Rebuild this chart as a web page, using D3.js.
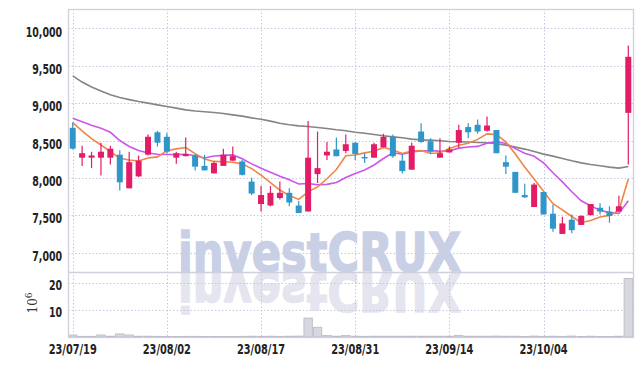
<!DOCTYPE html>
<html>
<head>
<meta charset="utf-8">
<script src="https://cdn.jsdelivr.net/npm/d3@7"></script>
<style>
  body { margin: 0; background: #fff; }
  svg { display: block; }
</style>
</head>
<body>
<div id="chart"></div>
<script>
// Trading days shown on the chart
const dates = [
  '23/07/19', '23/07/20', '23/07/21', '23/07/24', '23/07/25', '23/07/26', '23/07/27', '23/07/28', '23/07/31', '23/08/01',
  '23/08/02', '23/08/03', '23/08/04', '23/08/07', '23/08/08', '23/08/09', '23/08/10', '23/08/11', '23/08/14', '23/08/16',
  '23/08/17', '23/08/18', '23/08/21', '23/08/22', '23/08/23', '23/08/24', '23/08/25', '23/08/28', '23/08/29', '23/08/30',
  '23/08/31', '23/09/01', '23/09/04', '23/09/05', '23/09/06', '23/09/07', '23/09/08', '23/09/11', '23/09/12', '23/09/13',
  '23/09/14', '23/09/15', '23/09/18', '23/09/19', '23/09/20', '23/09/21', '23/09/22', '23/09/25', '23/09/26', '23/09/27',
  '23/10/04', '23/10/05', '23/10/06', '23/10/10', '23/10/11', '23/10/12', '23/10/13', '23/10/16', '23/10/17', '23/10/18'
];
const tickDates = ['23/07/19', '23/08/02', '23/08/17', '23/08/31', '23/09/14', '23/10/04'];

const open = [
  8670, 8270, 8270, 8270, 8270, 8310, 7860, 8020, 8310, 8610,
  8550, 8270, 8290, 8300, 8160, 8060, 8160, 8230, 8220, 7950,
  7650, 7630, 7730, 7800, 7630, 7550, 8050, 8300, 8380, 8360,
  8470, 8280, 8270, 8410, 8550, 8230, 8110, 8620, 8490, 8270,
  8340, 8470, 8680, 8710, 8630, 8640, 8210, 8080, 7770, 7610,
  7810, 7520, 7250, 7440, 7370, 7500, 7600, 7550, 7550, 8870
];
const high = [
  8740, 8430, 8350, 8470, 8430, 8370, 8350, 8300, 8580, 8630,
  8600, 8350, 8540, 8320, 8310, 8220, 8390, 8420, 8240, 8000,
  7890, 7890, 7950, 7860, 7690, 8760, 8620, 8480, 8540, 8580,
  8480, 8330, 8470, 8590, 8580, 8320, 8470, 8730, 8530, 8530,
  8420, 8710, 8730, 8780, 8820, 8640, 8300, 8080, 7920, 7930,
  7810, 7640, 7480, 7510, 7500, 7650, 7660, 7620, 7760, 9770
];
const low = [
  8380, 8160, 8130, 8030, 8180, 7830, 7860, 8010, 8300, 8420,
  8330, 8190, 8290, 8100, 8100, 8060, 8160, 8230, 8030, 7770,
  7550, 7620, 7710, 7620, 7530, 7550, 7930, 8240, 8290, 8330,
  8240, 8200, 8270, 8410, 8270, 8060, 8110, 8470, 8320, 8270,
  8340, 8400, 8530, 8590, 8620, 8330, 8050, 7800, 7730, 7610,
  7510, 7280, 7250, 7260, 7370, 7500, 7510, 7400, 7550, 8180
];
const close = [
  8390, 8330, 8300, 8350, 8390, 7940, 8210, 8230, 8550, 8470,
  8350, 8330, 8320, 8150, 8100, 8200, 8310, 8290, 8040, 7790,
  7770, 7800, 7800, 7670, 7530, 8270, 8130, 8350, 8290, 8450,
  8320, 8270, 8450, 8550, 8290, 8090, 8430, 8480, 8350, 8330,
  8380, 8640, 8610, 8620, 8700, 8330, 8150, 7800, 7740, 7910,
  7510, 7320, 7390, 7300, 7490, 7650, 7550, 7490, 7620, 9620
];

// Moving averages
const ma5 = [
  8740, 8630, 8525, 8440, 8352, 8262, 8238, 8225, 8265, 8281,
  8364, 8388, 8406, 8325, 8251, 8220, 8215, 8209, 8187, 8124,
  8038, 7935, 7837, 7763, 7712, 7812, 7879, 7988, 8111, 8296,
  8306, 8334, 8355, 8407, 8374, 8327, 8359, 8365, 8326, 8335,
  8394, 8436, 8462, 8515, 8589, 8580, 8482, 8320, 8145, 7986,
  7821, 7655, 7572, 7483, 7400, 7430, 7476, 7498, 7562, 7986
];
const ma10 = [
  8799, 8750, 8705, 8665, 8610, 8500, 8420, 8365, 8332, 8316,
  8313, 8313, 8315, 8295, 8266, 8292, 8301, 8307, 8256, 8187,
  8129, 8075, 8023, 7975, 7918, 7925, 7907, 7913, 7937, 8004,
  8059, 8106, 8172, 8259, 8335, 8317, 8347, 8360, 8367, 8355,
  8361, 8398, 8413, 8421, 8462, 8487, 8459, 8391, 8330, 8288,
  8201, 8068, 7946, 7814, 7693, 7626, 7565, 7535, 7523, 7693
];
const maLong = [
  9365, 9282, 9216, 9164, 9111, 9075, 9047, 9021, 9000, 8977,
  8955, 8933, 8910, 8895, 8885, 8874, 8861, 8843, 8826, 8803,
  8785, 8759, 8732, 8710, 8696, 8687, 8674, 8660, 8643, 8630,
  8610, 8598, 8580, 8563, 8549, 8536, 8518, 8509, 8505, 8496,
  8487, 8483, 8479, 8473, 8469, 8456, 8438, 8411, 8385, 8353,
  8318, 8291, 8259, 8228, 8201, 8179, 8162, 8144, 8131, 8152
];

// Volume in millions of shares
const volume = [
  0.75, 0.25, 0.25, 0.75, 0.3, 1.15, 0.75, 0.3, 0.3, 0.25,
  0.2, 0.2, 0.25, 0.25, 0.2, 0.15, 0.2, 0.2, 0.25, 0.3,
  0.25, 0.3, 0.25, 0.3, 0.35, 7.0, 3.6, 0.6, 0.3, 0.6,
  0.3, 0.25, 0.3, 0.3, 0.3, 0.3, 0.3, 0.3, 0.3, 0.3,
  0.3, 0.6, 0.3, 0.3, 0.3, 0.35, 0.3, 0.3, 0.2, 0.35,
  0.25, 0.3, 0.25, 0.35, 0.2, 0.3, 0.2, 0.2, 0.3, 21.6
];

const priceTicks = [7000, 7500, 8000, 8500, 9000, 9500, 10000];
const volumeTicks = [10, 20];

const width = 642;
const height = 366;
const plotLeft = 68, plotRight = 633, plotTop = 9, priceBottom = 272, volBottom = 337;

const labelFont = '"DejaVu Sans Condensed", "DejaVu Sans", sans-serif';
const gridColor = '#c6c9dd';
const borderColor = '#cfd0de';
const upColor = '#e21c66';
const downColor = '#3096c8';

const svg = d3.select('#chart')
  .append('svg')
  .attr('width', width)
  .attr('height', height);

// Scales
const x = d3.scaleBand().domain(dates).range([plotLeft, plotRight]).padding(0);
const cx = d => x(d) + x.bandwidth() / 2;
const y = d3.scaleLinear().domain([6740, 10260]).range([priceBottom, plotTop]);
const yv = d3.scaleLinear().domain([0, 24]).range([volBottom, priceBottom]);

svg.append('clipPath').attr('id', 'price-clip')
  .append('rect').attr('x', plotLeft).attr('y', plotTop)
  .attr('width', plotRight - plotLeft).attr('height', priceBottom - plotTop);
svg.append('clipPath').attr('id', 'vol-clip')
  .append('rect').attr('x', plotLeft).attr('y', priceBottom)
  .attr('width', plotRight - plotLeft).attr('height', volBottom - priceBottom);

// Watermark text, drawn once normally and once mirrored below the price panel
const watermark = (sel, fill) => sel
  .attr('x', 178)
  .attr('y', priceBottom - 1)
  .attr('textLength', 283)
  .attr('lengthAdjust', 'spacingAndGlyphs')
  .style('font-family', '"DejaVu Sans", sans-serif')
  .style('font-weight', 'bold')
  .style('font-size', '53px')
  .style('fill', fill)
  .style('stroke', fill)
  .style('stroke-width', 1.5)
  .text('investCRUX');

svg.append('g')
  .attr('clip-path', 'url(#vol-clip)')
  .append('text')
  .attr('transform', `translate(0, ${priceBottom * 2}) scale(1, -1)`)
  .call(watermark, '#e4e5ef');

// Grid lines
const grid = svg.append('g')
  .attr('stroke', gridColor)
  .attr('stroke-width', 1)
  .attr('stroke-dasharray', '1.5,2');

grid.selectAll('.hgrid')
  .data(priceTicks)
  .enter()
  .append('line')
  .attr('x1', plotLeft).attr('x2', plotRight)
  .attr('y1', d => Math.round(y(d)) + 0.5)
  .attr('y2', d => Math.round(y(d)) + 0.5);

grid.selectAll('.vgrid')
  .data(volumeTicks)
  .enter()
  .append('line')
  .attr('x1', plotLeft).attr('x2', plotRight)
  .attr('y1', d => Math.round(yv(d)) + 0.5)
  .attr('y2', d => Math.round(yv(d)) + 0.5);

grid.selectAll('.xgrid')
  .data(tickDates)
  .enter()
  .append('line')
  .attr('x1', d => Math.round(cx(d)) + 0.5)
  .attr('x2', d => Math.round(cx(d)) + 0.5)
  .attr('y1', plotTop).attr('y2', volBottom);

svg.append('g')
  .attr('clip-path', 'url(#price-clip)')
  .append('text')
  .call(watermark, '#c9d0e6');

// Volume bars
svg.append('g')
  .attr('clip-path', 'url(#vol-clip)')
  .selectAll('rect')
  .data(dates)
  .enter()
  .append('rect')
  .attr('x', d => x(d) + 0.5)
  .attr('width', x.bandwidth() - 1)
  .attr('y', (d, i) => yv(volume[i]))
  .attr('height', (d, i) => volBottom - yv(volume[i]))
  .attr('fill', '#d7d7df')
  .attr('stroke', '#b9b9c5')
  .attr('stroke-width', 0.8);

// Moving average lines
const maGroup = svg.append('g').attr('clip-path', 'url(#price-clip)');
const maSeries = [
  { values: maLong, color: '#858585' },
  { values: ma10, color: '#cc56ea' },
  { values: ma5, color: '#ef8646' }
];
maSeries.forEach(s => {
  const line = d3.line()
    .x((v, i) => cx(dates[i]))
    .y(v => y(v));
  maGroup.append('path')
    .datum(s.values)
    .attr('d', line)
    .attr('fill', 'none')
    .attr('stroke', s.color)
    .attr('stroke-width', 1.6);
});

// Candles
const candles = svg.append('g')
  .attr('clip-path', 'url(#price-clip)')
  .selectAll('g')
  .data(dates)
  .enter()
  .append('g');

const candleColor = (d, i) => close[i] >= open[i] ? upColor : downColor;

candles.append('line')
  .attr('x1', d => cx(d))
  .attr('x2', d => cx(d))
  .attr('y1', (d, i) => y(high[i]))
  .attr('y2', (d, i) => y(low[i]))
  .attr('stroke', candleColor)
  .attr('stroke-width', 1.2);

candles.append('rect')
  .attr('x', d => cx(d) - 3)
  .attr('width', 6)
  .attr('y', (d, i) => y(Math.max(open[i], close[i])))
  .attr('height', (d, i) => Math.max(1.5, Math.abs(y(open[i]) - y(close[i]))))
  .attr('fill', candleColor);

// Panel borders
const border = svg.append('g')
  .attr('fill', 'none')
  .attr('stroke', borderColor)
  .attr('stroke-width', 1.3);
border.append('rect')
  .attr('x', plotLeft + 0.5).attr('y', plotTop + 0.5)
  .attr('width', plotRight - plotLeft).attr('height', volBottom - plotTop);
border.append('line')
  .attr('x1', plotLeft).attr('x2', plotRight + 1)
  .attr('y1', priceBottom + 0.5).attr('y2', priceBottom + 0.5);

// Axes labels
const styleLabels = sel => sel
  .style('font-family', labelFont)
  .style('font-weight', 'bold')
  .style('fill', '#222');

const yAxis = svg.append('g')
  .attr('transform', `translate(${plotLeft}, 0)`)
  .call(d3.axisLeft(y).tickValues(priceTicks).tickSize(0).tickPadding(7.5)
    .tickFormat(d3.format(',')));
yAxis.select('.domain').remove();
yAxis.selectAll('text')
  .attr('dy', null)
  .attr('y', 7.6)
  .attr('transform', 'scale(0.78, 1)')
  .style('font-size', '13.5px')
  .call(styleLabels);

const vAxis = svg.append('g')
  .attr('transform', `translate(${plotLeft}, 0)`)
  .call(d3.axisLeft(yv).tickValues(volumeTicks).tickSize(0).tickPadding(7.5));
vAxis.select('.domain').remove();
vAxis.selectAll('text')
  .attr('dy', null)
  .attr('y', 6.8)
  .attr('transform', 'scale(0.78, 1)')
  .style('font-size', '13.5px')
  .call(styleLabels);

const xAxis = svg.append('g')
  .attr('transform', `translate(0, ${volBottom})`)
  .call(d3.axisBottom(x).tickValues(tickDates).tickSize(0));
xAxis.select('.domain').remove();
xAxis.selectAll('text')
  .attr('dy', null)
  .attr('y', 17.3)
  .attr('transform', 'scale(0.78, 1)')
  .style('font-size', '14px')
  .call(styleLabels);

// Volume unit label (10^6)
const unit = svg.append('text')
  .attr('transform', 'translate(37, 303) rotate(-90)')
  .attr('text-anchor', 'middle')
  .style('font-family', '"DejaVu Serif", serif')
  .style('font-size', '12px')
  .style('fill', '#333');
unit.append('tspan').text('10');
unit.append('tspan').attr('dy', -5).style('font-size', '9px').text('6');
</script>
</body>
</html>
